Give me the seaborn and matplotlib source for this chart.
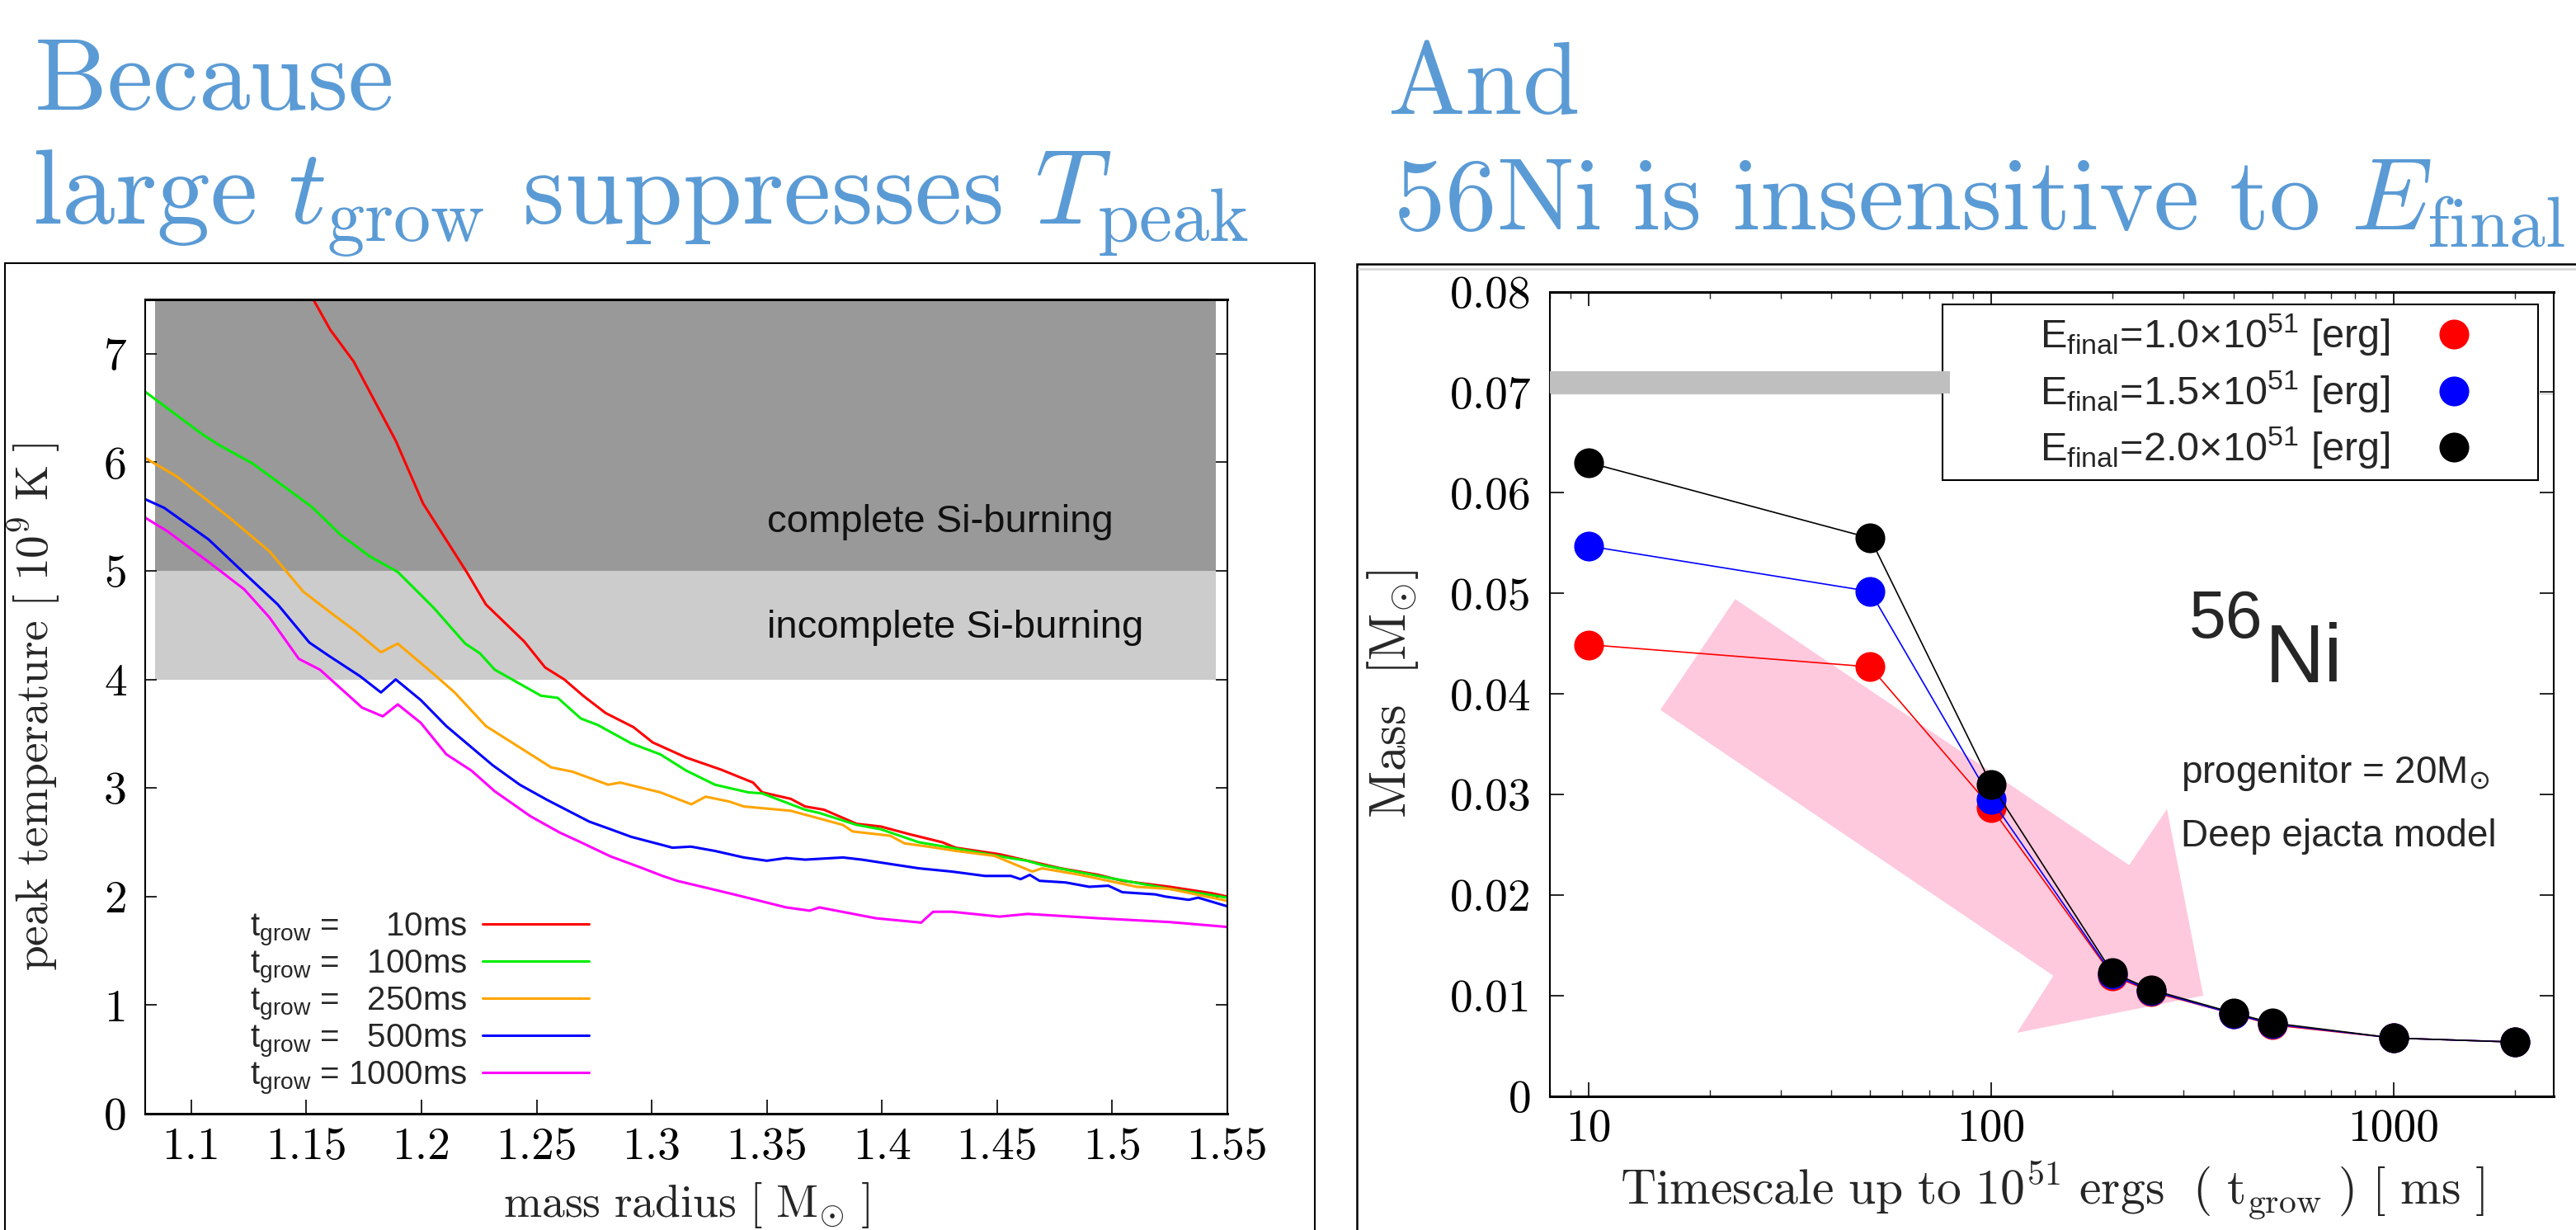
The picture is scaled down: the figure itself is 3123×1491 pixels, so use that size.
import numpy as np
import pandas as pd
import matplotlib
matplotlib.use("Agg")
import matplotlib.pyplot as plt
import seaborn as sns
from matplotlib.patches import Rectangle, Polygon
from matplotlib.lines import Line2D
import matplotlib.ticker as mticker

# ---------------- data: left panel (peak temperature vs mass radius) ----------------
grow_names = ["10ms", "100ms", "250ms", "500ms", "1000ms"]
grow_legend_nums = ["\u2007\u200710ms", "\u2007100ms", "\u2007250ms", "\u2007500ms", "1000ms"]
grow_colors = ["#ff0000", "#00ee00", "#ffa500", "#0000ff", "#ff00ff"]

red_x = [1.153, 1.1604, 1.1705, 1.1888, 1.2007, 1.2199, 1.228, 1.2446, 1.2537, 1.262, 1.2702, 1.280,
         1.2921, 1.3004, 1.315, 1.33, 1.344, 1.348, 1.3604, 1.3666, 1.3748, 1.389, 1.3995, 1.4118,
         1.4262, 1.432, 1.451, 1.4653, 1.4777, 1.494, 1.5044, 1.525, 1.5434, 1.55]
red_y = [7.5, 7.22, 6.93, 6.20, 5.62, 4.98, 4.69, 4.35, 4.11, 4.00, 3.85, 3.69,
         3.56, 3.42, 3.28, 3.17, 3.05, 2.96, 2.90, 2.83, 2.80, 2.67, 2.645, 2.575,
         2.50, 2.45, 2.39, 2.32, 2.26, 2.20, 2.145, 2.09, 2.03, 2.00]

green_x = [1.08, 1.1047, 1.112, 1.1266, 1.1523, 1.165, 1.1778, 1.1897, 1.2053, 1.219, 1.2254, 1.2318,
           1.2519, 1.2592, 1.2692, 1.2766, 1.2912, 1.3037, 1.315, 1.3275, 1.3419, 1.348, 1.3666,
           1.3728, 1.389, 1.3995, 1.416, 1.430, 1.457, 1.463, 1.4695, 1.494, 1.525, 1.535, 1.55]
green_y = [6.65, 6.26, 6.16, 5.99, 5.59, 5.33, 5.13, 4.99, 4.66, 4.33, 4.24, 4.09,
           3.85, 3.83, 3.64, 3.58, 3.41, 3.31, 3.16, 3.03, 2.96, 2.95, 2.80,
           2.77, 2.66, 2.62, 2.50, 2.45, 2.35, 2.33, 2.29, 2.19, 2.07, 2.04, 1.99]

orange_x = [1.08, 1.0937, 1.1166, 1.134, 1.1486, 1.1615, 1.1716, 1.1824, 1.1897, 1.2053, 1.2144, 1.228,
            1.2474, 1.2563, 1.2656, 1.2811, 1.2863, 1.3037, 1.3172, 1.3234, 1.3337, 1.3399, 1.3604,
            1.383, 1.3872, 1.4036, 1.4098, 1.420, 1.4323, 1.4488, 1.4653, 1.4695, 1.486, 1.5106,
            1.525, 1.55]
orange_y = [6.04, 5.87, 5.49, 5.18, 4.81, 4.60, 4.44, 4.25, 4.33, 4.05, 3.88, 3.57,
            3.31, 3.19, 3.15, 3.03, 3.05, 2.96, 2.85, 2.92, 2.875, 2.83, 2.79,
            2.66, 2.60, 2.56, 2.49, 2.46, 2.42, 2.375, 2.23, 2.26, 2.20, 2.09,
            2.07, 1.96]

blue_x = [1.08, 1.0883, 1.1075, 1.123, 1.1376, 1.1513, 1.1596, 1.1733, 1.1824, 1.1888, 1.1997, 1.2108,
          1.2309, 1.2427, 1.2546, 1.2729, 1.2821, 1.2911, 1.3037, 1.309, 1.317, 1.3275, 1.340, 1.350,
          1.3584, 1.3666, 1.383, 1.3913, 1.4036, 1.416, 1.4304, 1.4447, 1.456, 1.4602, 1.4642, 1.4684,
          1.4797, 1.490, 1.4983, 1.5044, 1.5187, 1.523, 1.5332, 1.5373, 1.55]
blue_y = [5.66, 5.58, 5.29, 4.98, 4.69, 4.34, 4.22, 4.03, 3.88, 4.00, 3.81, 3.57,
          3.21, 3.03, 2.89, 2.69, 2.62, 2.55, 2.48, 2.45, 2.46, 2.42, 2.36, 2.33,
          2.355, 2.34, 2.36, 2.34, 2.30, 2.26, 2.23, 2.19, 2.19, 2.16, 2.20, 2.145,
          2.13, 2.09, 2.10, 2.04, 2.02, 2.00, 1.97, 1.99, 1.91]

magenta_x = [1.08, 1.09, 1.1083, 1.123, 1.134, 1.1467, 1.1559, 1.1742, 1.1832, 1.1897, 1.1997, 1.2108,
             1.2217, 1.2318, 1.2473, 1.26, 1.2692, 1.2821, 1.2949, 1.3047, 1.311, 1.3357, 1.3584,
             1.3686, 1.3728, 1.3974, 1.417, 1.4222, 1.4304, 1.451, 1.4633, 1.494, 1.525, 1.55]
magenta_y = [5.49, 5.36, 5.07, 4.83, 4.57, 4.19, 4.09, 3.74, 3.66, 3.77, 3.60, 3.31,
             3.16, 2.97, 2.74, 2.59, 2.50, 2.37, 2.27, 2.19, 2.145, 2.02, 1.90,
             1.87, 1.90, 1.80, 1.76, 1.86, 1.86, 1.815, 1.84, 1.80, 1.765, 1.72]

grow_x = [red_x, green_x, orange_x, blue_x, magenta_x]
grow_y = [red_y, green_y, orange_y, blue_y, magenta_y]

left_xticks = [1.1, 1.15, 1.2, 1.25, 1.3, 1.35, 1.4, 1.45, 1.5, 1.55]
left_xticklabels = ["1.1", "1.15", "1.2", "1.25", "1.3", "1.35", "1.4", "1.45", "1.5", "1.55"]
left_yticks = [0, 1, 2, 3, 4, 5, 6, 7]
left_yticklabels = ["0", "1", "2", "3", "4", "5", "6", "7"]
burn_x = [1.0842, 1.5451]
complete_band = [5.0, 7.5]
incomplete_band = [4.0, 5.0]

# ---------------- data: right panel (56Ni mass vs t_grow) ----------------
t_grow = [10, 50, 100, 200, 250, 400, 500, 1000, 2000]
energy_names = ["1.0", "1.5", "2.0"]
energy_colors = ["#ff0000", "#0000ff", "#000000"]
mass_e10 = [0.0449, 0.0427, 0.0287, 0.0120, 0.0104, 0.0082, 0.0071, 0.0058, 0.0054]
mass_e15 = [0.0547, 0.0502, 0.0295, 0.0121, 0.0105, 0.0082, 0.0072, 0.0058, 0.0054]
mass_e20 = [0.0630, 0.0555, 0.0310, 0.0123, 0.0106, 0.0083, 0.0073, 0.0058, 0.0054]
mass_series = [mass_e10, mass_e15, mass_e20]

right_yticks = [0, 0.01, 0.02, 0.03, 0.04, 0.05, 0.06, 0.07, 0.08]
right_yticklabels = ["0", "0.01", "0.02", "0.03", "0.04", "0.05", "0.06", "0.07", "0.08"]
right_xticks = [10, 100, 1000]
right_xticklabels = ["10", "100", "1000"]
obs_band_x = [8, 79]
obs_band_lo = [0.0699, 0.0699]
obs_band_hi = [0.0721, 0.0721]

arrow_x = [23.1, 220.2, 273.4, 336.5, 115.9, 142.7, 15.05]
arrow_y = [0.04943, 0.02299, 0.02857, 0.01002, 0.00632, 0.01199, 0.03842]

# ---------------- style ----------------
sns.set_style("white")
plt.rcParams["font.family"] = ["Liberation Sans", "DejaVu Sans"]
plt.rcParams["mathtext.fontset"] = "custom"
plt.rcParams["mathtext.rm"] = "Liberation Sans"
plt.rcParams["mathtext.it"] = "Liberation Sans:italic"
plt.rcParams["mathtext.bf"] = "Liberation Sans:bold"
plt.rcParams["mathtext.sf"] = "Liberation Sans"

W, H = 3123, 1491
fig = plt.figure(figsize=(W / 100, H / 100), dpi=100)
fig.patch.set_facecolor("white")

TITLE_BLUE = "#5b9bd5"
TFS = 90
fig.text(41 / W, 1 - 133 / H, r"$\mathrm{Because}$", fontsize=TFS, color=TITLE_BLUE,
         math_fontfamily="cm", ha="left", va="baseline")
fig.text(39 / W, 1 - 272 / H, r"$\mathrm{large}\ t_{\mathrm{grow}}\ \mathrm{suppresses}\ T_{\mathrm{peak}}$",
         fontsize=93, color=TITLE_BLUE, math_fontfamily="cm", ha="left", va="baseline")
fig.text(1682 / W, 1 - 138 / H, r"$\mathrm{And}$", fontsize=TFS, color=TITLE_BLUE,
         math_fontfamily="cm", ha="left", va="baseline")
fig.text(1689 / W, 1 - 279 / H, r"$\mathrm{56Ni\ is\ insensitive\ to}\ E_{\mathrm{final}}$",
         fontsize=TFS, color=TITLE_BLUE, math_fontfamily="cm", ha="left", va="baseline")

# outer frames of the two pasted figures
fig.add_artist(Rectangle((6 / W, -0.05), (1594 - 6) / W, 0.05 + 1 - 319 / H, transform=fig.transFigure,
                         fill=False, ec="black", lw=1.5))
fig.add_artist(Rectangle((1645 / W, -0.05), 1.1 - 1645 / W, 0.05 + 1 - 320 / H, transform=fig.transFigure,
                         fill=False, ec="black", lw=1.8))
fig.add_artist(Line2D([1647 / W, 1.0], [1 - 326 / H] * 2, transform=fig.transFigure, color="#d8d8d8", lw=2))

TICKFS = 40
LABFS = 40

# ================= left axes =================
axL = fig.add_axes([176 / W, (H - 1350) / H, 1312 / W, 987 / H])
axL.set_facecolor("white")
axL.fill_between(burn_x, complete_band[0], complete_band[1], color="#999999", lw=0, zorder=0.5)
axL.fill_between(burn_x, incomplete_band[0], incomplete_band[1], color="#cccccc", lw=0, zorder=0.5)

rows = []
for name, xs, ys in zip(grow_names, grow_x, grow_y):
    for xv, yv in zip(xs, ys):
        rows.append({"mass": xv, "T": yv, "t_grow": name})
df_left = pd.DataFrame(rows)
sns.lineplot(data=df_left, x="mass", y="T", hue="t_grow", hue_order=grow_names,
             palette=dict(zip(grow_names, grow_colors)), estimator=None, sort=False,
             linewidth=2.2, legend=False, ax=axL)

axL.set_xlim(1.08, 1.55)
axL.set_ylim(0, 7.5)
axL.xaxis.set_major_locator(mticker.FixedLocator(left_xticks))
axL.set_xticklabels(left_xticklabels)
axL.yaxis.set_major_locator(mticker.FixedLocator(left_yticks))
axL.set_yticklabels(left_yticklabels)
axL.tick_params(axis="x", direction="in", length=12, width=1.2, bottom=True, top=False,
                labelsize=TICKFS, labelfontfamily="cmr10", pad=12, colors="black")
axL.tick_params(axis="y", direction="in", length=10, width=1.2, left=True, right=True,
                labelsize=TICKFS, labelfontfamily="cmr10", pad=16, colors="black")
for sp in axL.spines.values():
    sp.set_color("black")
    sp.set_linewidth(1.5)
axL.spines["bottom"].set_linewidth(2.2)
axL.spines["top"].set_linewidth(2.2)

axL.set_xlabel(r"$\mathrm{mass\ radius\ [\ M_{\odot}\ ]}$", fontsize=LABFS, math_fontfamily="cm")
axL.set_ylabel(r"$\mathrm{peak\ temperature\ [\ 10^9\ K\ ]}$", fontsize=LABFS, math_fontfamily="cm")
axL.xaxis.set_label_coords(0.5, -0.082)
axL.yaxis.set_label_coords(-0.0755, 0.5)

axL.text(0.5744, 0.7143, "complete Si-burning", transform=axL.transAxes, fontsize=34,
         ha="left", va="baseline", color="#111111")
axL.text(0.5744, 0.5846, "incomplete Si-burning", transform=axL.transAxes, fontsize=34,
         ha="left", va="baseline", color="#111111")

handlesL = [Line2D([], [], color=c, lw=2.2) for c in grow_colors]
labelsL = [r"$\mathrm{t_{grow}}$ = " + s for s in grow_legend_nums]
axL.legend(handlesL, labelsL, loc="center left", bbox_to_anchor=(0.097, 0.1352), frameon=False,
           markerfirst=False, fontsize=29, handlelength=3.2, handletextpad=0.45,
           labelspacing=0.0, borderpad=0, borderaxespad=0)

# ================= right axes =================
axR = fig.add_axes([1879 / W, (H - 1329) / H, 1217 / W, 975.5 / H])
axR.set_facecolor("white")
axR.set_xscale("log")

axR.add_patch(Polygon(list(zip(arrow_x, arrow_y)), closed=True, fc="#ffc9dd", ec="none", zorder=0.8))
axR.axhline(obs_band_lo[0], color="#c8c8c8", lw=1.0, zorder=0.6)
axR.fill_between(obs_band_x, obs_band_lo, obs_band_hi, color="#bfbfbf", lw=0, zorder=3.5)

rows = []
for name, ms in zip(energy_names, mass_series):
    for tv, mv in zip(t_grow, ms):
        rows.append({"t": tv, "M": mv, "E": name})
df_right = pd.DataFrame(rows)
sns.lineplot(data=df_right, x="t", y="M", hue="E", hue_order=energy_names,
             palette=dict(zip(energy_names, energy_colors)), estimator=None, sort=False,
             marker="o", markersize=26, markeredgewidth=0, linewidth=1.2, legend=False, ax=axR)

axR.set_xlim(8, 2500)
axR.set_ylim(0, 0.08)
axR.xaxis.set_major_locator(mticker.FixedLocator(right_xticks))
axR.set_xticklabels(right_xticklabels)
axR.xaxis.set_minor_locator(mticker.LogLocator(base=10, subs=[2, 3, 4, 5, 6, 7, 8, 9], numticks=20))
axR.xaxis.set_minor_formatter(mticker.NullFormatter())
axR.yaxis.set_major_locator(mticker.FixedLocator(right_yticks))
axR.set_yticklabels(right_yticklabels)
axR.tick_params(axis="x", which="major", direction="in", length=12, width=1.2, bottom=True, top=True,
                labelsize=TICKFS, labelfontfamily="cmr10", pad=11, colors="black")
axR.tick_params(axis="x", which="minor", direction="in", length=6, width=1.0, bottom=True, top=True)
axR.tick_params(axis="y", direction="in", length=12, width=1.2, left=True, right=True,
                labelsize=TICKFS, labelfontfamily="cmr10", pad=16, colors="black")
for sp in axR.spines.values():
    sp.set_color("black")
    sp.set_linewidth(1.5)
axR.spines["bottom"].set_linewidth(2.2)
axR.spines["top"].set_linewidth(2.2)

axR.set_xlabel(r"$\mathrm{Timescale\ up\ to\ 10^{51}\ ergs\ \ (\ t_{grow}\ )\ [\ ms\ ]}$",
               fontsize=43, math_fontfamily="cm")
axR.set_ylabel(r"$\mathrm{Mass\ \ [M_{\odot}]}$", fontsize=45, math_fontfamily="cm")
axR.xaxis.set_label_coords(0.5, -0.078)
axR.yaxis.set_label_coords(-0.129, 0.5)

# legend box + legend
axR.add_patch(Rectangle((0.391, 0.766), 0.593, 0.2176, transform=axR.transAxes, fc="white",
                        ec="black", lw=1.5, zorder=3))
handlesR = [Line2D([], [], marker="o", ls="none", color=c, markersize=26, markeredgewidth=0)
            for c in energy_colors]
labelsR = [r"E$_{\mathrm{final}}$=" + e + r"$\times$10$^{51}$ [erg]" for e in energy_names]
legR = axR.legend(handlesR, labelsR, loc="center left", bbox_to_anchor=(0.488, 0.8754), frameon=False,
                  markerfirst=False, fontsize=35, handlelength=1.0, handletextpad=1.1,
                  labelspacing=0.27, borderpad=0, borderaxespad=0)
legR.set_zorder(5)

axR.text(0.6369, 0.570, "56", transform=axR.transAxes, fontsize=58, ha="left", va="baseline")
axR.text(0.7124, 0.5146, "Ni", transform=axR.transAxes, fontsize=72, ha="left", va="baseline")
axR.text(0.6286, 0.3895, r"progenitor = 20M$_{\odot}$", transform=axR.transAxes, fontsize=33,
         ha="left", va="baseline", math_fontfamily="dejavusans")
axR.text(0.6286, 0.3106, "Deep ejacta model", transform=axR.transAxes, fontsize=33,
         ha="left", va="baseline")

fig.savefig("out.png", dpi=100, facecolor="white")
